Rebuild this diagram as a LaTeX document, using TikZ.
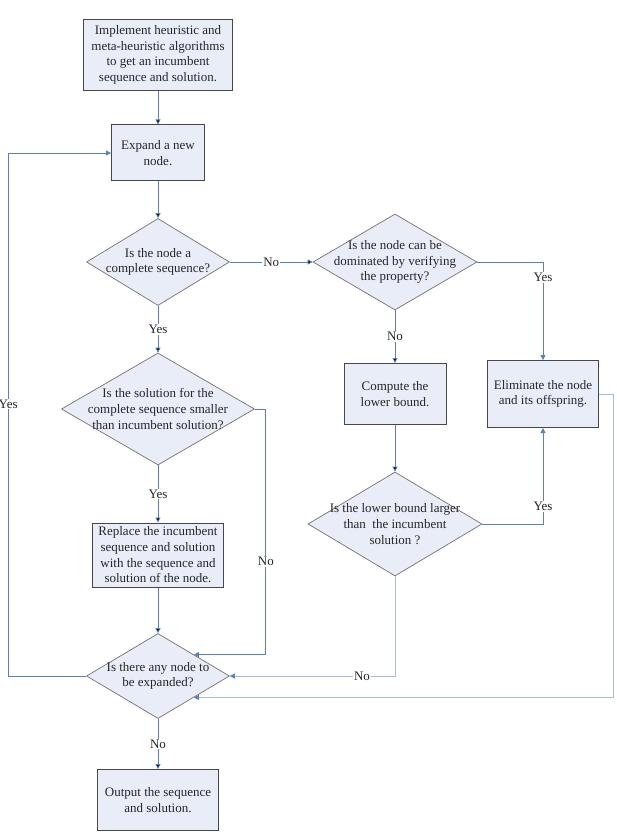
\documentclass[tikz,border=0pt]{standalone}
\usepackage{fontspec}
\setmainfont{Liberation Serif}
\usetikzlibrary{shapes,arrows.meta,positioning}
\definecolor{boxfill}{RGB}{232,237,247}
\definecolor{flowblue}{RGB}{84,130,196}
\definecolor{flowpale}{RGB}{165,190,224}
\tikzset{
  blk/.style 2 args = { draw=black!72, line width=1pt, fill=boxfill, align=center,
    minimum width=#1, minimum height=#2, inner sep=0pt },
  dec/.style 2 args = { diamond, draw=black!55, line width=0.7pt, fill=boxfill,
    minimum width=#1, minimum height=#2, inner sep=0pt },
  dtxt/.style = { align=center, inner sep=0pt },
  flow/.style = { draw=flowblue, line width=0.8pt, -{Triangle[length=5pt,width=5pt]} },
  pale/.style = { draw=flowpale, line width=0.8pt, -{Triangle[length=5pt,width=5pt,color=flowblue]} },
  lbl/.style  = { fill=white, inner sep=1pt }
}

\begin{document}
\begin{tikzpicture}[on grid, font=\fontsize{13}{15.7}\selectfont, text=black!85]
  \useasboundingbox (0,0) rectangle (616pt,-837pt);
  % left column
  \node[blk={149pt}{71pt}] (init) at (158pt,-55pt)
    {Implement heuristic and\\meta-heuristic algorithms\\to get an incumbent\\sequence and solution.};
  \node[blk={93pt}{56pt}, below=98pt of init] (expand) {Expand a new\\node.};
  \node[dec={143pt}{87pt}, below=109pt of expand,
    label={[dtxt]center:{Is the node a\\complete sequence?}}] (full) {};
  \node[dec={193pt}{112pt}, below=147pt of full,
    label={[dtxt]center:{Is the solution for the\\complete sequence smaller\\than incumbent solution?}}] (sol) {};
  \node[blk={131pt}{64pt}, below=146pt of sol]
    (repl) {Replace the incumbent\\sequence and solution\\with the sequence and\\solution of the node.};
  \node[dec={143pt}{85pt}, below=121pt of repl,
    label={[dtxt]center:{Is there any node to\\be expanded?}}] (more) {};
  \node[blk={121pt}{61pt}, below=124pt of more] (out) {Output the sequence\\and solution.};
  % right part
  \node[dec={164pt}{96pt}, right=237pt of full,
    label={[dtxt]center:{Is the node can be\\dominated by verifying\\the property?}}] (dom) {};
  \node[blk={102pt}{61pt}, below=132pt of dom] (lower) {Compute the\\lower bound.};
  \node[blk={111pt}{67pt}, right=148pt of lower] (elim) {Eliminate the node\\and its offspring.};
  \node[dec={174pt}{104pt}, below=130pt of lower,
    label={[dtxt]center:{Is the lower bound larger\\than \ the incumbent\\solution ?}}] (lbd) {};

  \path[flow] (init) edge (expand);
  \path[flow] (expand) edge (full);
  \path[flow] (full) edge node[lbl] {No} (dom);
  \path[flow] (full) edge node[lbl] {Yes} (sol);
  \path[flow] (sol) edge node[lbl] {Yes} (repl);
  \path[flow] (repl) edge (more);
  \path[flow] (more) edge node[lbl] {No} (out);
  \path[flow] (dom) edge node[lbl] {No} (lower);
  \path[flow] (lower) edge (lbd);
  \draw[flow] (dom.east) -| node[lbl, pos=0.58] {Yes} (elim.north);
  \draw[flow] (lbd.east) -| node[lbl, pos=0.59] {Yes} (elim.south);
  \draw[flow] (sol.east) -- ++(11pt,0) |- node[lbl, pos=0.31] {No} (more.north east);
  \draw[pale] (lbd.south) |- node[lbl, pos=0.6] {No} (more.east);
  \draw[pale] (elim.east) -- ++(14pt,0) |- (more.south east);
  \draw[flow] (more.west) -- ++(-78pt,0) |- node[lbl, pos=0.26] {Yes} (expand.west);
\end{tikzpicture}
\end{document}
